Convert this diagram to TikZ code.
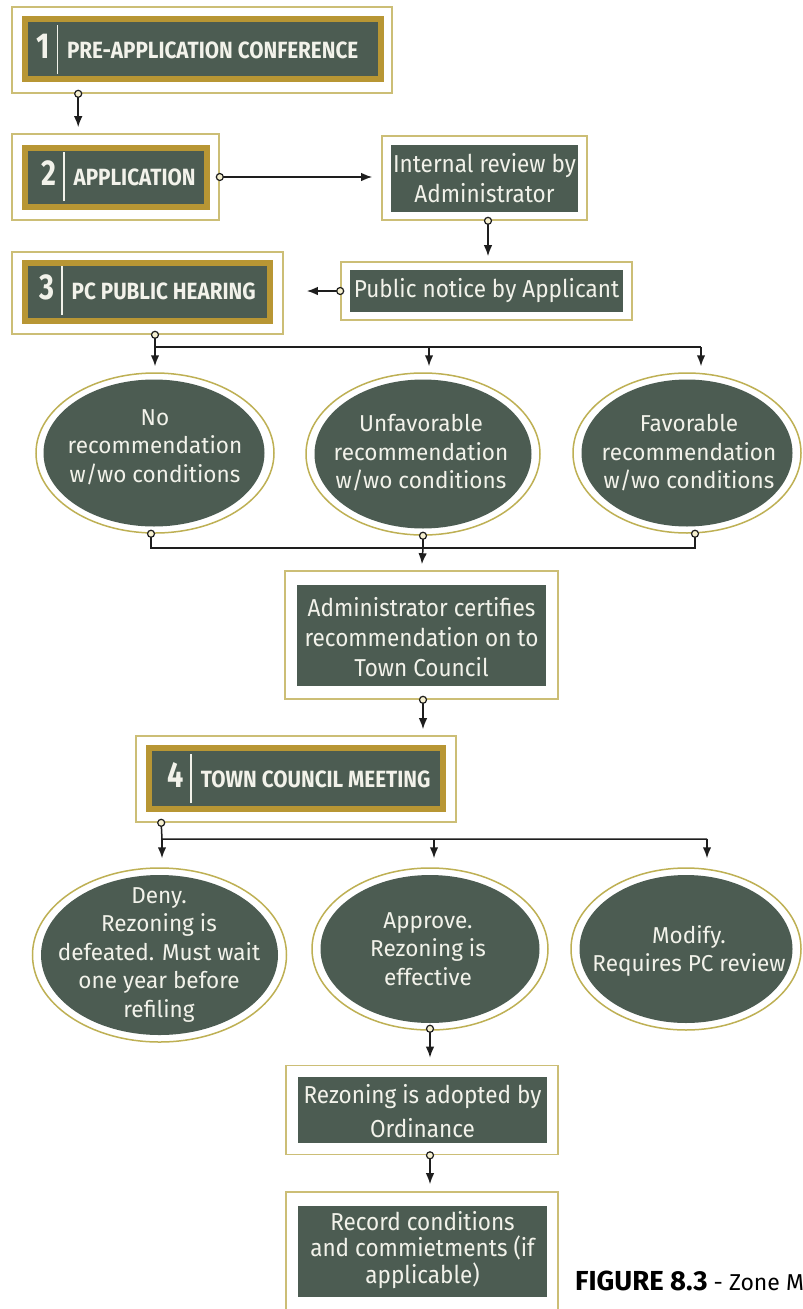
\documentclass[tikz,border=0pt]{standalone}
\usepackage{fontspec}
\setmainfont{Fira Sans}
\newfontfamily\stepfont{Fira Sans}[FakeStretch=0.88]
\newfontfamily\numfont{Fira Sans}[FakeStretch=0.8]
\newfontfamily\boxfont{Fira Sans}[FakeStretch=0.92]
\newfontfamily\ellfont{Fira Sans}[FakeStretch=0.98]
\newfontfamily\capfont{Fira Sans}
\usetikzlibrary{arrows.meta,shapes.geometric,calc}
\definecolor{dkgreen}{RGB}{76,92,82}
\definecolor{bandgold}{RGB}{184,150,52}
\definecolor{framegold}{RGB}{204,190,118}
\definecolor{ringgold}{RGB}{190,176,84}
\definecolor{txtwhite}{RGB}{242,242,234}
\definecolor{lnk}{RGB}{30,30,30}
\definecolor{dotfill}{RGB}{246,240,208}
\newcommand\steplabel[2]{{\numfont\bfseries\fontsize{36}{36}\selectfont #1}\hspace{7pt}{\color{txtwhite}\rule[-16pt]{1.5pt}{49pt}}\hspace{9pt}{\fontsize{23.5}{23.5}\selectfont #2}}
\tikzset{
  frame/.style n args={2}{draw=framegold, line width=1.6pt, fill=white, rectangle, inner sep=0pt, minimum width=#1pt, minimum height=#2pt},
  band/.style n args={2}{draw=bandgold, line width=6pt, fill=dkgreen, rectangle, inner sep=0pt, minimum width=#1pt, minimum height=#2pt},
  core/.style n args={2}{fill=dkgreen, rectangle, inner sep=0pt, minimum width=#1pt, minimum height=#2pt},
  ering/.style n args={2}{ellipse, draw=ringgold, line width=1.5pt, fill=white, inner sep=0pt, minimum width=#1pt, minimum height=#2pt},
  ecore/.style n args={2}{ellipse, fill=dkgreen, inner sep=0pt, minimum width=#1pt, minimum height=#2pt},
  steptext/.style={anchor=base west, inner sep=0pt, text=txtwhite, font=\stepfont\bfseries},
  boxtext/.style={align=center, inner sep=0pt, text=txtwhite, font=\boxfont\fontsize{24.5}{30}\selectfont},
  elltext/.style={align=center, inner sep=0pt, text=txtwhite, font=\ellfont\fontsize{23}{28.5}\selectfont},
  link/.style={draw=lnk, line width=1.5pt},
  arr/.style={link, -{Latex[length=11pt,width=8.5pt]}},
  dot/.style={circle, draw=lnk, line width=1.2pt, fill=dotfill, inner sep=0pt, minimum size=7pt},
}
\begin{document}
\begin{tikzpicture}[x=1pt,y=-1pt]
\useasboundingbox (0,0) rectangle (803,1309);
\clip (0,0) rectangle (803,1309);
\fill[white] (0,0) rectangle (803,1309);

% ---------- step boxes ----------
\node[frame={380}{86}] (b1o) at (202,50) {};
\node[band={356}{60}] (b1) at (203,49) {};
\node[steptext] (b1t) at (36,58) {\steplabel{1}{PRE-APPLICATION CONFERENCE}};

\node[frame={207}{86}] (b2o) at (115.5,177) {};
\node[band={182}{59}] (b2) at (116,177.5) {};
\node[steptext] (b2t) at (41,185) {\steplabel{2}{APPLICATION}};

\node[frame={271}{82}] (b3o) at (147.5,293) {};
\node[band={245}{58}] (b3) at (147.5,292) {};
\node[steptext] (b3t) at (39,299) {\steplabel{3}{PC PUBLIC HEARING}};

\node[frame={320}{86}] (b4o) at (296,779) {};
\node[band={294}{61}] (b4) at (296,778.5) {};
\node[steptext] (b4t) at (167,787) {\steplabel{4}{TOWN COUNCIL MEETING}};

% ---------- plain boxes ----------
\node[frame={205}{84}] (ir) at (484.5,178) {};
\node[core={187}{67}] (irc) at (484.5,178.5) {};
\node[boxtext] (irt) at (484.5,178) {Internal review by\\Administrator};

\node[frame={291}{58}] (pn) at (486.5,291) {};
\node[core={273}{42}] (pnc) at (486.5,291) {};
\node[boxtext] (pnt) at (486.5,291) {Public notice by Applicant};

\node[frame={273}{128}] (ad) at (421.5,635) {};
\node[core={249}{101}] (adc) at (421.5,635.5) {};
\node[boxtext] (adt) at (421.5,637) {Administrator certifies\\recommendation on to\\Town Council};

\node[frame={272}{89}] (rz) at (422,1110) {};
\node[core={249}{66}] (rzc) at (422.5,1110) {};
\node[boxtext, font=\boxfont\fontsize{24.5}{34}\selectfont] (rzt) at (422.5,1111) {Rezoning is adopted by\\Ordinance};

\node[frame={272}{140}] (rc) at (422,1262) {};
\node[core={249}{91}] (rcc) at (422.5,1251.5) {};
\node[boxtext, font=\boxfont\fontsize{24.5}{26.5}\selectfont] (rct) at (422.5,1250) {Record conditions\\and commietments (if\\applicable)};

% ---------- ellipses row 1 ----------
\node[ering={238}{160}] (e1) at (155,453) {};
\node[ecore={221}{147}] (e1c) at (154,453) {};
\node[elltext] (e1t) at (155,447) {No\\recommendation\\w/wo conditions};

\node[ering={234}{162}] (e2) at (423,454) {};
\node[ecore={217}{149}] (e2c) at (423,454) {};
\node[elltext] (e2t) at (421,453) {Unfavorable\\recommendation\\w/wo conditions};

\node[ering={228}{160}] (e3) at (687,453) {};
\node[ecore={211}{147}] (e3c) at (687,453) {};
\node[elltext] (e3t) at (689,453) {Favorable\\recommendation\\w/wo conditions};

% ---------- ellipses row 2 ----------
\node[ering={254}{174}] (e4) at (159.5,955) {};
\node[ecore={237}{160}] (e4c) at (159.5,955) {};
\node[elltext] (e4t) at (159,955) {Deny.\\Rezoning is\\defeated. Must wait\\one year before\\refiling};

\node[ering={236}{162}] (e5) at (430,949) {};
\node[ecore={219}{148}] (e5c) at (430,949) {};
\node[elltext] (e5t) at (428,949) {Approve.\\Rezoning is\\effective};

\node[ering={230}{162}] (e6) at (686,949) {};
\node[ecore={213}{148}] (e6c) at (686,949) {};
\node[elltext] (e6t) at (689,951) {Modify.\\Requires PC review};

% ---------- caption ----------
\node[anchor=base west, inner sep=0pt, text=black] (cap) at (575,1290)
  {{\capfont\bfseries\fontsize{27.5}{27.5}\selectfont FIGURE 8.3}{\capfont\fontsize{23}{23}\selectfont\ - Zone M}};

% ---------- connectors ----------
\draw[arr, shorten >=6pt] ([xshift=67pt]b1o.south west) -- ([xshift=67pt]b2o.north west);
\node[dot] at ([xshift=67pt]b1o.south west) {};

\draw[arr, shorten >=9pt] (b2o.east) -- (b2o.east -| ir.west);
\node[dot] at (b2o.east) {};

\draw[arr, shorten >=5pt] ([xshift=3.5pt]ir.south) -- ([xshift=3.5pt]ir.south |- pn.north);
\node[dot] at ([xshift=3.5pt]ir.south) {};

\draw[arr, shorten >=23pt] (pn.west) -- (pn.west -| b3o.east);
\node[dot] at (pn.west) {};

% PC hearing to recommendations
\coordinate (u1) at (155,347);
\coordinate (u2) at (429,347);
\coordinate (u3) at (701,347);
\draw[link] ([xshift=7.5pt]b3o.south) -- (u1) -- (u3);
\draw[arr, shorten >=6pt] (u1) -- (u1 |- e1.north);
\draw[arr, shorten >=6pt] (u2) -- (u2 |- e2.north);
\draw[arr, shorten >=6pt] (u3) -- (u3 |- e3.north);
\node[dot] at ([xshift=7.5pt]b3o.south) {};

% recommendations to administrator
\coordinate (v2) at (423,548);
\draw[link] ([xshift=-4pt]e1.south) |- (v2);
\draw[link] ([xshift=8pt]e3.south) |- (v2);
\draw[link] (e2.south) -- (v2);
\draw[arr, shorten >=6pt] (v2) -- (ad.north);
\node[dot] at ([xshift=-4pt]e1.south) {};
\node[dot] at (e2.south) {};
\node[dot] at ([xshift=8pt]e3.south) {};

\draw[arr, shorten >=6pt] ([xshift=1.5pt]ad.south) -- ([xshift=1.5pt]ad.south |- b4o.north);
\node[dot] at ([xshift=1.5pt]ad.south) {};

% town council to decisions
\coordinate (w1) at (162,839);
\coordinate (w2) at (434,839);
\coordinate (w3) at (707,839);
\draw[link] ([xshift=26pt]b4o.south west) -- (w1) -- (w3);
\draw[arr, shorten >=9pt] (w1) -- (w1 |- e4.north);
\draw[arr, shorten >=9pt] (w2) -- (w2 |- e5.north);
\draw[arr, shorten >=9pt] (w3) -- (w3 |- e6.north);
\node[dot] at ([xshift=26pt]b4o.south west) {};

\draw[arr, shorten >=7pt] ([yshift=2pt]e5.south) -- (e5.south |- rz.north);
\node[dot] at ([yshift=2pt]e5.south) {};

\draw[arr, shorten >=7pt] (rz.south -| e5.south) -- (e5.south |- rc.north);
\node[dot] at (rz.south -| e5.south) {};
\end{tikzpicture}
\end{document}
